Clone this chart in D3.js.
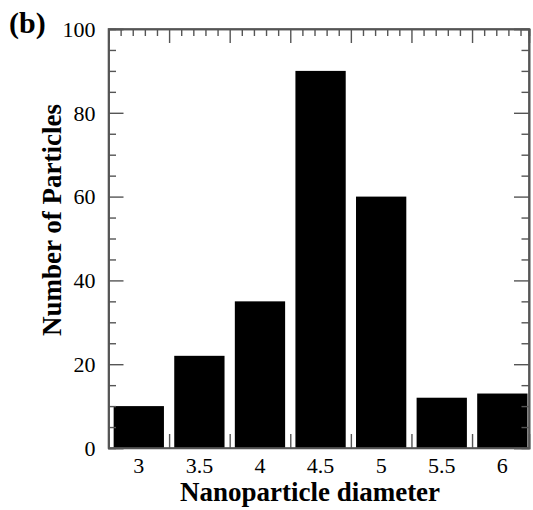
<!DOCTYPE html>
<html>
<head>
<meta charset="utf-8">
<script src="https://cdn.jsdelivr.net/npm/d3@7"></script>
<style>
  html, body { margin: 0; padding: 0; background: #fff; }
  svg { display: block; }
  text { font-family: "Liberation Serif", "Times New Roman", serif; fill: #000; }
</style>
</head>
<body>
<svg id="chart" width="533" height="510"></svg>
<script>
// Nanoparticle size histogram
const diameters = [3, 3.5, 4, 4.5, 5, 5.5, 6];
const counts = [10, 22, 35, 90, 60, 12, 13];
const xTickLabels = ["3", "3.5", "4", "4.5", "5", "5.5", "6"];
const yTickValues = [0, 20, 40, 60, 80, 100];
const binEdges = [3.25, 3.75, 4.25, 4.75, 5.25, 5.75];

const svg = d3.select("#chart");
const m = { left: 108.5, right: 529, top: 29, bottom: 448 };

const x = d3.scaleLinear().domain([2.75, 6.22]).range([m.left, m.right]);
const y = d3.scaleLinear().domain([0, 100]).range([m.bottom, m.top]);
const barW = x(2.75 + 0.415) - x(2.75);
const axisColor = "#555";

// bars
svg.append("g").selectAll("rect")
  .data(diameters)
  .join("rect")
  .attr("x", (d) => x(d) - barW / 2)
  .attr("width", barW)
  .attr("y", (d, i) => y(counts[i]))
  .attr("height", (d, i) => y(0) - y(counts[i]))
  .attr("fill", "#000");

// bottom axis: inward ticks at bin edges, labels at bin centres
const bottom = svg.append("g").attr("transform", `translate(0,${m.bottom})`);
bottom.call(d3.axisBottom(x).tickValues(binEdges).tickSize(-14).tickFormat(""));
bottom.append("g").selectAll("text")
  .data(diameters)
  .join("text")
  .attr("x", (d) => x(d))
  .attr("y", 25)
  .attr("text-anchor", "middle")
  .style("font-size", "22px")
  .text((d, i) => xTickLabels[i]);

// top axis: major ticks at bin edges, minor every 0.1
const topMinor = d3.range(2.85, 6.2, 0.1).filter((v) => !binEdges.some((e) => Math.abs(e - v) < 1e-6));
const topG = svg.append("g").attr("transform", `translate(0,${m.top})`);
topG.call(d3.axisTop(x).tickValues(topMinor).tickSize(-7).tickFormat(""));
topG.append("g").call(d3.axisTop(x).tickValues(binEdges).tickSize(-14).tickFormat(""));

// left axis
const yMinor = d3.range(5, 100, 5).filter((v) => v % 20 !== 0);
const left = svg.append("g").attr("transform", `translate(${m.left},0)`);
left.call(d3.axisLeft(y).tickValues(yMinor).tickSize(-7.5).tickFormat(""));
left.append("g").call(d3.axisLeft(y).tickValues(yTickValues).tickSize(-15).tickFormat(""));
left.append("g").selectAll("text")
  .data(yTickValues)
  .join("text")
  .attr("x", -13)
  .attr("y", (d) => y(d))
  .attr("dy", "0.35em")
  .attr("text-anchor", "end")
  .style("font-size", "22px")
  .text((d) => d);

// right axis
const right = svg.append("g").attr("transform", `translate(${m.right},0)`);
right.call(d3.axisRight(y).tickValues(yMinor).tickSize(-7.5).tickFormat(""));
right.append("g").call(d3.axisRight(y).tickValues(yTickValues).tickSize(-15).tickFormat(""));

svg.selectAll(".domain").attr("stroke", axisColor).attr("stroke-width", 1.6);
svg.selectAll(".tick line").attr("stroke", axisColor).attr("stroke-width", 1.4);

// frame lines
svg.append("rect")
  .attr("x", m.left).attr("y", m.top)
  .attr("width", m.right - m.left).attr("height", m.bottom - m.top)
  .attr("fill", "none").attr("stroke", axisColor).attr("stroke-width", 1.6);

// titles
svg.append("text")
  .attr("x", 310)
  .attr("y", 501)
  .attr("text-anchor", "middle")
  .style("font-size", "27px").style("font-weight", "bold")
  .text("Nanoparticle diameter");

svg.append("text")
  .attr("transform", "translate(61,220) rotate(-90)")
  .attr("text-anchor", "middle")
  .style("font-size", "27px").style("font-weight", "bold")
  .text("Number of Particles");

svg.append("text")
  .attr("x", 9)
  .attr("y", 33)
  .style("font-size", "30px").style("font-weight", "bold")
  .text("(b)");
</script>
</body>
</html>
